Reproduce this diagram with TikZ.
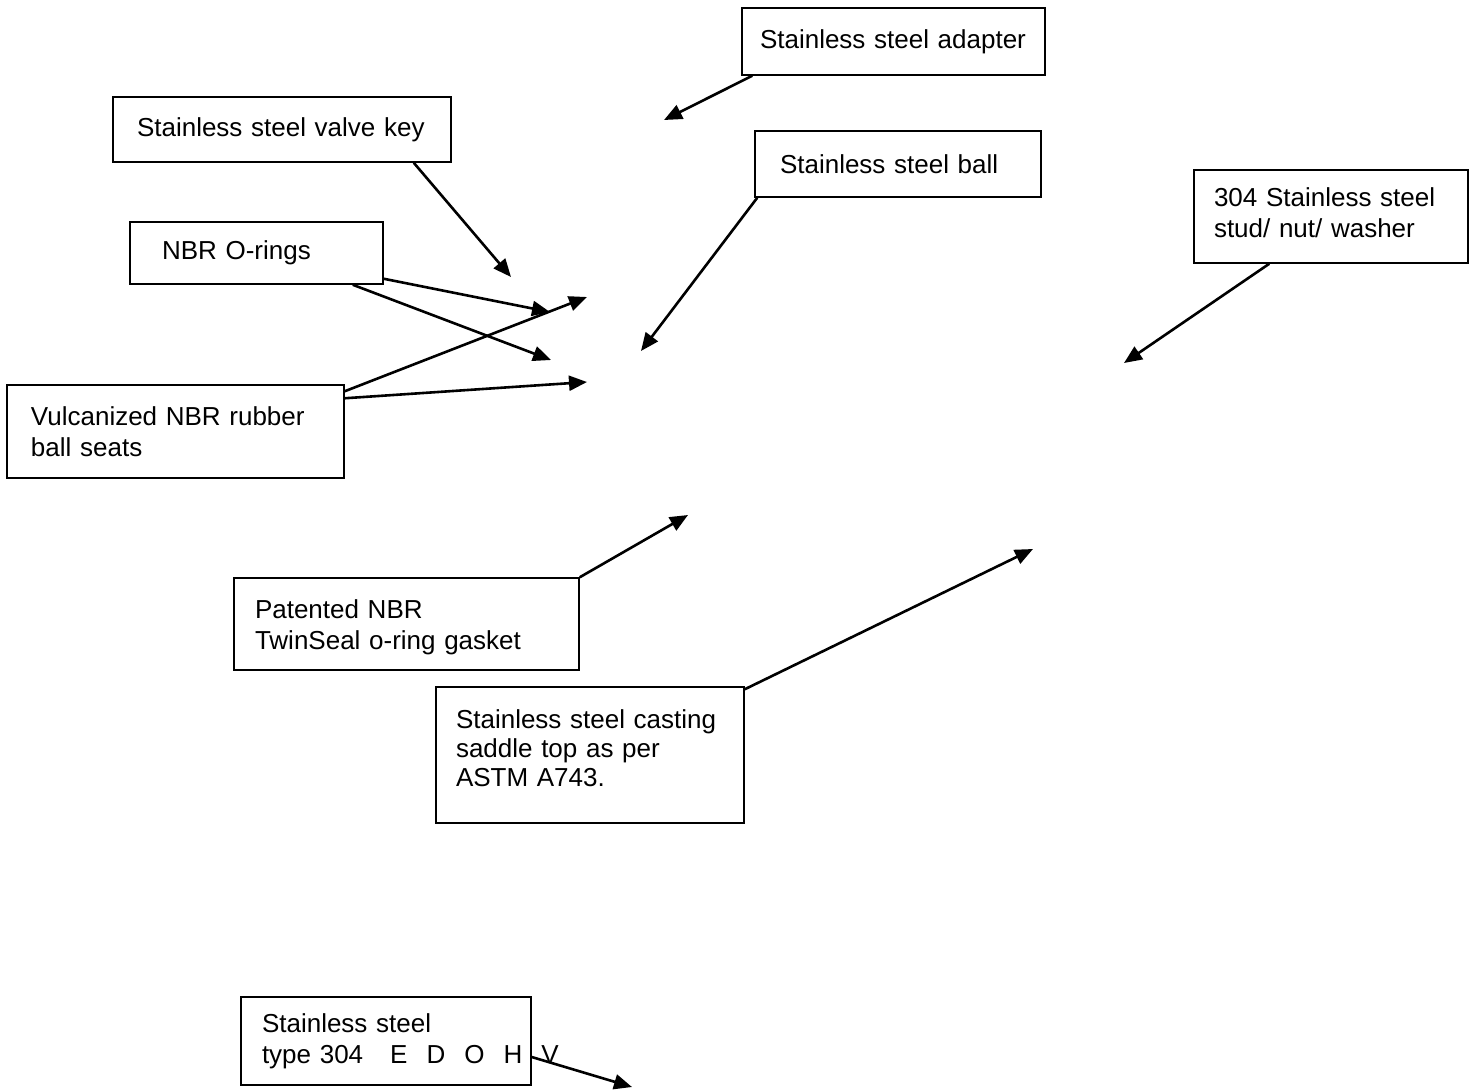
\documentclass[tikz,border=0pt]{standalone}
\usepackage{fontspec}
\setmainfont{Liberation Sans}
\usetikzlibrary{arrows.meta}

\begin{document}
\begin{tikzpicture}[x=0.5pt,y=-0.5pt,
    partbox/.style={draw,line width=0.75pt,rectangle,align=left,inner ysep=0pt,
      font=\fontsize{13}{15.4}\selectfont},
    leader/.style={line width=1.3pt,-{Triangle[length=9pt,width=7.5pt]}}]
  \fill[white] (0,0) rectangle (1474,1089);
  \useasboundingbox (0,0) rectangle (1474,1089);

  \node[partbox,minimum width=151.5pt,minimum height=33.5pt,
    inner xsep=7pt,text width=137.5pt] (adapter) at (893.5,41.5)
    {\hspace*{2pt}Stainless steel adapter};
  \node[partbox,minimum width=169pt,minimum height=32.5pt,
    inner xsep=11pt,text width=147pt] (valvekey) at (282,129.5)
    {\hspace*{1pt}Stainless steel valve key};
  \node[partbox,minimum width=143pt,minimum height=33pt,
    inner xsep=12.5pt,text width=118pt] (ball) at (898,164)
    {Stainless steel ball};
  \node[partbox,minimum width=137pt,minimum height=46.5pt,
    inner xsep=10pt,text width=117pt,text depth=19pt] (stud) at (1331,216.5)
    {304 Stainless steel\\stud/ nut/ washer};
  \node[partbox,minimum width=126.5pt,minimum height=31pt,
    inner xsep=16pt,text width=94.5pt] (orings) at (256.5,253)
    {NBR O-rings};
  \node[partbox,minimum width=168.5pt,minimum height=46.5pt,
    inner xsep=12pt,text width=144.5pt] (seats) at (175.5,431.5)
    {Vulcanized NBR rubber\\ball seats};
  \node[partbox,minimum width=172.5pt,minimum height=46pt,
    inner xsep=10.5pt,text width=151.5pt,text depth=15pt] (gasket) at (406.5,624)
    {Patented NBR\\TwinSeal o-ring gasket};
  \node[partbox,minimum width=154pt,minimum height=68pt,
    inner xsep=10pt,text width=134pt,text depth=36pt,
    font=\fontsize{13}{14.5}\selectfont] (saddle) at (590,755)
    {Stainless steel casting\\saddle top as per\\ASTM A743.};
  \node[partbox,minimum width=145pt,minimum height=44pt,
    inner xsep=10.5pt,text width=124pt] (t304) at (386,1041)
    {Stainless steel\\\mbox{type 304\hspace{13.5pt}E\hspace{9.5pt}D\hspace{9.5pt}O\hspace{9.5pt}H\hspace{9.5pt}V}};

  \coordinate (adapterTip) at (664,120);
  \coordinate (valvekeyTip) at (511,277);
  \coordinate (ballTip) at (641,351);
  \coordinate (studTip) at (1124,363);
  \coordinate (oringsTipA) at (550,312);
  \coordinate (oringsTipB) at (551,360);
  \coordinate (seatsTipA) at (587,297);
  \coordinate (seatsTipB) at (587,382);
  \coordinate (gasketTip) at (688,515);
  \coordinate (saddleTip) at (1033,549);
  \coordinate (t304Tip) at (632,1087);

  \draw[leader] ([xshift=5.5pt]adapter.south west) -- (adapterTip);
  \draw[leader] ([xshift=-19pt]valvekey.south east) -- (valvekeyTip);
  \draw[leader] ([xshift=1.5pt]ball.south west) -- (ballTip);
  \draw[leader] ([xshift=38pt]stud.south west) -- (studTip);
  \draw[leader] ([yshift=3pt]orings.south east) -- (oringsTipA);
  \draw[leader] ([xshift=-15.5pt]orings.south east) -- (oringsTipB);
  \draw[leader] ([yshift=-3.5pt]seats.north east) -- (seatsTipA);
  \draw[leader] ([yshift=-7pt]seats.north east) -- (seatsTipB);
  \draw[leader] (gasket.north east) -- (gasketTip);
  \draw[leader] ([yshift=-1.5pt]saddle.north east) -- (saddleTip);
  \draw[leader] ([yshift=-8pt]t304.east) -- (t304Tip);
\end{tikzpicture}
\end{document}
